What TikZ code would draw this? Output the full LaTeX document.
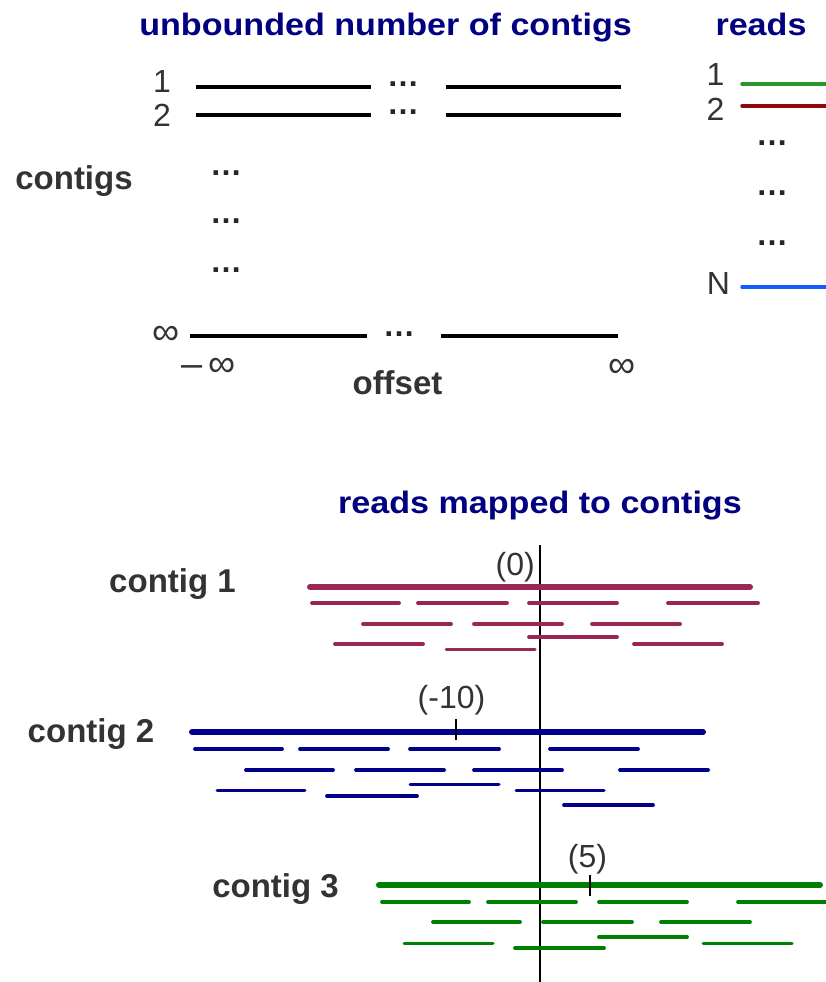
\documentclass[tikz,border=0pt]{standalone}
\usepackage{fontspec}
\setmainfont{Liberation Sans}
\newfontfamily\ttlfont{Liberation Sans}[FakeStretch=1.1]
\definecolor{navyc}{RGB}{0,0,128}
\definecolor{txt}{RGB}{51,51,51}
\definecolor{cone}{RGB}{153,38,84}
\definecolor{ctwo}{RGB}{0,0,140}
\definecolor{cthree}{RGB}{0,128,0}
\definecolor{rgreen}{RGB}{40,150,40}
\definecolor{rred}{RGB}{140,10,10}
\definecolor{rblue}{RGB}{20,90,255}
\begin{document}
\begin{tikzpicture}[x=1pt,y=-1pt,
  ttl/.style={font=\ttlfont\bfseries\fontsize{31}{36}\selectfont, text=navyc, inner sep=0, anchor=base},
  lbl/.style={font=\bfseries\fontsize{33}{38}\selectfont, text=txt, inner sep=0, anchor=base},
  num/.style={font=\fontsize{32}{36}\selectfont, text=txt, inner sep=0},
  infs/.style={font=\fontsize{38}{40}\selectfont, text=txt, inner sep=0},
  dts/.style={font=\bfseries\fontsize{32}{34}\selectfont, text=black!85, inner sep=0},
  cline/.style={line width=3.5pt, black, line cap=butt},
  rline/.style={line width=3.5pt, line cap=round},
  thick line/.style={line width=6pt, line cap=round},
  rd/.style={line width=3.8pt, line cap=round},
  rdt/.style={line width=3.0pt, line cap=round},
  tickm/.style={line width=2pt, black}]
\useasboundingbox (0,0) rectangle (825,982);

% ---------- top part ----------
\node[ttl] (t1) at (385.5,36) {unbounded number of contigs};
\node[ttl] (t2) at (761,36) {reads};

\node[num] (n1) at (162,81) {1};
\node[num] (n2) at (162,115) {2};
\draw[cline] (196,87) -- (371,87);
\draw[cline] (446,87) -- (621,87);
\draw[cline] (196,115) -- (371,115);
\draw[cline] (446,115) -- (621,115);
\node[dts] (d1) at (403,84) {…};
\node[dts] (d2) at (403,112) {…};

\node[lbl] (cl) at (74,189) {contigs};
\node[dts] (d3) at (226,173) {…};
\node[dts] (d4) at (226,221) {…};
\node[dts] (d5) at (226,270) {…};

\node[infs] (ninf) at (166,335) {∞};
\draw[cline] (190,336) -- (367,336);
\draw[cline] (441,336) -- (618,336);
\node[dts] (d6) at (399,334) {…};
\node[infs] (minf) at (208.5,367) {–\kern6pt∞};
\node[infs] (pinf) at (622,368) {∞};
\node[lbl] (off) at (397.5,394) {offset};

\node[num] (r1) at (715.5,74) {1};
\node[num] (r2) at (715.5,109) {2};
\node[num] (rN) at (718.5,283.5) {N};
\draw[rline, rgreen] (742,84) -- (830,84);
\draw[rline, rred] (742,106) -- (830,106);
\draw[rline, rblue] (742,287) -- (830,287);
\node[dts] (d7) at (772,143) {…};
\node[dts] (d8) at (772,193) {…};
\node[dts] (d9) at (772,243) {…};

% ---------- bottom part ----------
\node[ttl] (t3) at (540,513) {reads mapped to contigs};
\draw[line width=1.5pt, black] (540,545) -- (540,985);

% contig 1
\node[lbl] (c1) at (172.5,592) {contig 1};
\node[num, anchor=base east] (o1) at (535,575) {(0)};
\begin{scope}[cone]
\draw[thick line] (310,587) -- (750,587);
\foreach \a/\b in {312/399,418/507,529/617,668/758} \draw[rd] (\a,603) -- (\b,603);
\foreach \a/\b in {363/451,474/562,592/680} \draw[rd] (\a,624) -- (\b,624);
\draw[rd] (529,637) -- (617,637);
\foreach \a/\b in {335/423,634/722} \draw[rd] (\a,644) -- (\b,644);
\draw[rdt] (446,649) -- (535,649);
\end{scope}

% contig 2
\node[lbl] (c2) at (91,742) {contig 2};
\node[num, anchor=base] (o2) at (451.5,708) {(-10)};
\begin{scope}[ctwo]
\draw[thick line] (192,732) -- (703,732);
\foreach \a/\b in {195/282,300/388,410/499,550/638} \draw[rd] (\a,749) -- (\b,749);
\foreach \a/\b in {246/333,356/444,474/562,620/708} \draw[rd] (\a,770) -- (\b,770);
\draw[rdt] (410,784) -- (499,784);
\foreach \a/\b in {217/305,516/604} \draw[rdt] (\a,790) -- (\b,790);
\draw[rd] (327,796) -- (417,796);
\draw[rd] (564,805) -- (653,805);
\end{scope}
\draw[tickm] (456,719) -- (456,740);

% contig 3
\node[lbl] (c3) at (275.5,897) {contig 3};
\node[num, anchor=base] (o3) at (587.5,867) {(5)};
\begin{scope}[cthree]
\draw[thick line] (379,885) -- (820,885);
\foreach \a/\b in {382/469,488/576,599/687,738/830} \draw[rd] (\a,902) -- (\b,902);
\foreach \a/\b in {433/520,543/632,661/750} \draw[rd] (\a,922) -- (\b,922);
\draw[rd] (599,937) -- (687,937);
\foreach \a/\b in {404/493,703/792} \draw[rdt] (\a,943) -- (\b,943);
\draw[rd] (515,948) -- (604,948);
\end{scope}
\draw[tickm] (589.5,875) -- (589.5,896);
\end{tikzpicture}
\end{document}
